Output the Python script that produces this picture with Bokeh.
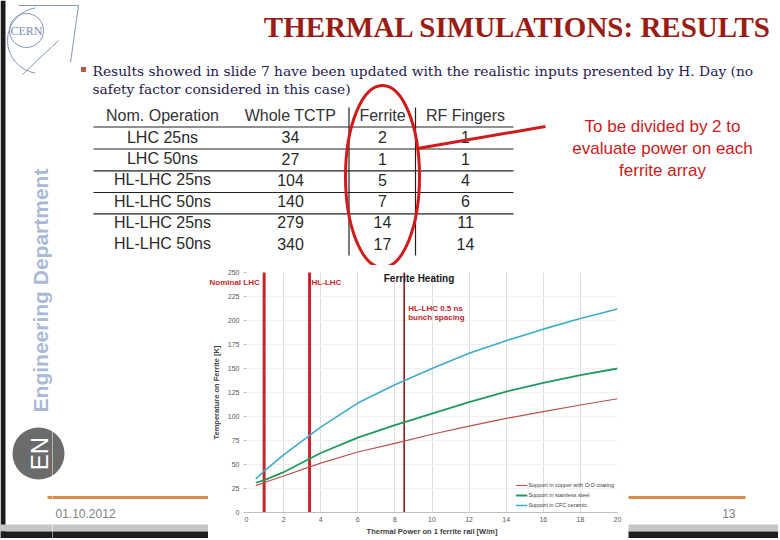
import numpy as np
from bokeh.plotting import figure
from bokeh.models import Range1d, Label, Legend, LegendItem, SingleIntervalTicker, GridBox, Title
from bokeh.embed import file_html
from bokeh.resources import INLINE
from bokeh.core.properties import value

# ---------------- chart data ----------------
power = [0.5, 1, 2, 4, 6, 8, 10, 12, 14, 16, 18, 20]
temp_copper_cro = [28, 31.5, 38, 51.5, 63, 72, 81.5, 90, 98, 105, 112, 118.5]
temp_stainless = [31, 34, 42, 62, 78, 91, 103, 115, 126, 135, 143, 150]
temp_ceramic = [35, 44, 60, 89, 114, 133, 150, 166, 179, 191, 202, 212]
series_names = ["Support in copper with CrO coating",
                "Support in stainless steel",
                "Support in CFC ceramic"]
scenario_power = [0.95, 3.4, 8.5]
scenario_names = ["Nominal LHC", "HL-LHC", "HL-LHC 0.5 ns", "bunch spacing"]

# ---------------- table data ----------------
table_header = ["Nom. Operation", "Whole TCTP", "Ferrite", "RF Fingers"]
operations = ["LHC 25ns", "LHC 50ns", "HL-LHC 25ns", "HL-LHC 50ns", "HL-LHC 25ns", "HL-LHC 50ns"]
whole_tctp = [34, 27, 104, 140, 279, 340]
ferrite = [2, 1, 5, 7, 14, 17]
rf_fingers = [1, 1, 4, 6, 11, 14]

title_text = "THERMAL SIMULATIONS: RESULTS"
bullet_lines = ["Results showed in slide 7 have been updated with the realistic inputs presented by H. Day (no",
                "safety factor considered in this case)"]
note_lines = ["To be divided by 2 to", "evaluate power on each", "ferrite array"]

SANS = value("Liberation Sans")
SERIF = value("Liberation Serif")

W, H = 778, 538          # whole slide, page pixels
SPLIT_X, SPLIT_Y = 52, 265
CHART_X0, CHART_X1 = 208, 628

FIXED = dict(sizing_mode="fixed", width_policy="fixed", height_policy="fixed",
             align="start", frame_align=False)


def panel(x0, x1, y0, y1):
    w, h = int(x1 - x0), int(y1 - y0)
    p = figure(width=w, height=h,
               x_range=Range1d(x0, x1), y_range=Range1d(y1, y0),
               output_backend="svg", toolbar_location=None, tools="",
               x_axis_location=None, y_axis_location=None,
               min_border=0, min_border_left=0, min_border_right=0,
               min_border_top=0, min_border_bottom=0,
               outline_line_color=None, background_fill_color="white",
               border_fill_color="white", **FIXED)
    p.grid.visible = False
    return p


def decor(p):
    # slide frame (left edge) and bottom bevel
    p.quad(left=[0], right=[5], top=[0], bottom=[H], fill_color="#1c1c1c", line_color=None)
    p.quad(left=[0], right=[W], top=[524], bottom=[531], fill_color="#c6c6c6", line_color=None)
    p.quad(left=[0], right=[W], top=[531], bottom=[H], fill_color="#1e1e1e", line_color=None)
    # CERN logo line work
    p.circle(x=[26], y=[30], radius=17, fill_color=None, line_color="#8394bb", line_width=1)
    p.arc(x=[40], y=[40], radius=33, start_angle=np.pi * 0.55, end_angle=np.pi * 1.45,
          line_color="#8394bb", line_width=1)
    p.segment(x0=[18, 78, 22], y0=[5, 5, 74], x1=[78, 70, 58], y1=[5, 62, 40],
              line_color="#8394bb", line_width=1)
    # EN badge
    p.circle(x=[38], y=[453], radius=26, fill_color="#6b6b6b", line_color=None)
    # footer rule
    p.segment(x0=[47], y0=[497], x1=[745], y1=[497], line_color="#d98b4c", line_width=3)


# ---------------- slide panels ----------------
left = panel(0, SPLIT_X, 0, H)
top = panel(SPLIT_X, W, 0, SPLIT_Y)
bm = panel(SPLIT_X, CHART_X0, SPLIT_Y, H)
br = panel(CHART_X1, W, SPLIT_Y, H)
for p in (left, top, bm, br):
    decor(p)

left.text(x=[26], y=[30], text=["CERN"], text_font=SERIF, text_font_size="12px",
          text_color="#7b8cb4", text_align="center", text_baseline="middle")
left.text(x=[40], y=[290], text=["Engineering Department"], angle=np.pi / 2,
          text_font=SANS, text_font_style="bold", text_font_size="21px",
          text_color="#a9b9d8", text_align="center", text_baseline="middle")
left.text(x=[39], y=[453], text=["EN"], angle=np.pi / 2, text_font=SANS,
          text_font_size="24px", text_color="white", text_align="center", text_baseline="middle")

bm.text(x=[55], y=[513], text=["01.10.2012"], text_font=SANS, text_font_size="12px",
        text_color="#7f7f7f", text_align="left", text_baseline="middle")
br.text(x=[735], y=[513], text=["13"], text_font=SANS, text_font_size="12px",
        text_color="#7f7f7f", text_align="right", text_baseline="middle")

# title
top.text(x=[771], y=[26], text=[title_text], text_font=SERIF, text_font_style="bold",
         text_font_size="29px", text_color="#9b1c14", text_align="right", text_baseline="middle")
# bullet
top.rect(x=[83], y=[69], width=5, height=5, fill_color="#b9544a", line_color=None)
top.text(x=[92, 92], y=[70, 88], text=bullet_lines, text_font=value("DejaVu Serif"),
         text_font_size="13.8px", text_color="#1f2050", text_align="left", text_baseline="middle")

# table
col_x = [162, 290, 382, 465]
header_y = 115
row_y0, row_dy = 136.7, 21.3
top.text(x=col_x, y=[header_y] * 4, text=table_header, text_font=SANS, text_font_size="16px",
         text_color="#333333", text_align="center", text_baseline="middle")
row_ys = [row_y0 + i * row_dy for i in range(len(operations))]
for cx, vals in zip(col_x, [operations, whole_tctp, ferrite, rf_fingers]):
    top.text(x=[cx] * len(vals), y=row_ys, text=[str(v) for v in vals], text_font=SANS,
             text_font_size="16px", text_color="#2a2a2a", text_align="center", text_baseline="middle")
rule_ys = [126.5, 148.5, 170.3, 192, 213.3]
top.segment(x0=[93] * 5, y0=rule_ys, x1=[513] * 5, y1=rule_ys, line_color="#222222", line_width=1.2)
top.segment(x0=[348.5, 415], y0=[107, 107], x1=[348.5, 415], y1=[255, 255],
            line_color="#222222", line_width=1.2)

# red highlight
top.ellipse(x=[382], y=[176], width=74, height=182, fill_color=None,
            line_color="#d11a1a", line_width=3)
top.segment(x0=[417], y0=[148], x1=[545], y1=[126], line_color="#d11a1a", line_width=3)
top.text(x=[662] * 3, y=[126, 148, 170], text=note_lines, text_font=SANS, text_font_size="17px",
         text_color="#cc1a1a", text_align="center", text_baseline="middle")

# ---------------- embedded chart ----------------
cw, ch = CHART_X1 - CHART_X0, H - SPLIT_Y
C = figure(width=cw, height=ch,
           x_range=Range1d(0, 20), y_range=Range1d(0, 250),
           output_backend="svg", toolbar_location=None, tools="",
           min_border_left=38, min_border_right=11, min_border_top=7, min_border_bottom=23,
           background_fill_color="white", border_fill_color="white", outline_line_color=None,
           **FIXED)
C.xaxis.ticker = SingleIntervalTicker(interval=2, num_minor_ticks=0)
C.yaxis.ticker = SingleIntervalTicker(interval=25, num_minor_ticks=0)
C.xgrid.grid_line_color = "#dedede"
C.ygrid.grid_line_color = "#f0f0f0"
for ax in (C.xaxis[0], C.yaxis[0]):
    ax.major_label_text_font = "Liberation Sans"
    ax.major_label_text_font_size = "7px"
    ax.major_label_text_color = "#595959"
    ax.axis_label_text_font = "Liberation Sans"
    ax.axis_label_text_font_size = "7.5px"
    ax.axis_label_text_font_style = "bold"
    ax.axis_label_text_color = "#404040"
    ax.minor_tick_line_color = None
    ax.major_tick_in = 0
C.xaxis.axis_label = "Thermal Power on 1 ferrite rail [W/m]"
C.yaxis.axis_label = "Temperature on Ferrite [K]"
C.xaxis.axis_line_color = "#bfbfbf"
C.xaxis.major_tick_out = 0
C.xaxis.major_label_standoff = 4
C.xaxis.axis_label_standoff = 2
C.yaxis.axis_line_color = None
C.yaxis.major_tick_out = 3
C.yaxis.major_tick_line_color = "#bfbfbf"
C.yaxis.major_label_standoff = 4
C.yaxis.axis_label_standoff = 4

C.segment(x0=scenario_power, y0=[0, 0, 0], x1=scenario_power, y1=[260, 260, 260],
          line_color=["#c3262c", "#c3262c", "#8e1b1b"], line_width=[3, 3, 1.6])

r1 = C.line(power, temp_copper_cro, line_color="#b9504a", line_width=1.2)
r2 = C.line(power, temp_stainless, line_color="#1f9a5c", line_width=1.8)
r3 = C.line(power, temp_ceramic, line_color="#3fabc9", line_width=1.6)

legend = Legend(items=[LegendItem(label=series_names[0], renderers=[r1]),
                       LegendItem(label=series_names[1], renderers=[r2]),
                       LegendItem(label=series_names[2], renderers=[r3])],
                location="bottom_right", label_text_font_size="5.5px",
                label_text_font="Liberation Sans", label_text_color="#404040",
                glyph_width=12, glyph_height=8, label_height=8, label_standoff=1,
                spacing=2, padding=1, margin=3, border_line_color=None,
                background_fill_alpha=0)
C.add_layout(legend)

lab_style = dict(text_font="Liberation Sans", text_font_size="8px", text_font_style="bold",
                 text_color="#c3262c")
# the first label hangs over the axis area, so it is carried by the plot title
C.title = Title(text=scenario_names[0], align="left", offset=-37, standoff=-28,
                vertical_align="bottom", **lab_style)
C.add_layout(Label(x=scenario_power[1], y=239.7, x_offset=2, text=scenario_names[1],
                   text_align="left", text_baseline="middle", **lab_style))
C.add_layout(Label(x=scenario_power[2], y=212.9, x_offset=4, text=scenario_names[2],
                   text_align="left", text_baseline="middle", **lab_style))
C.add_layout(Label(x=scenario_power[2], y=203.6, x_offset=4, text=scenario_names[3],
                   text_align="left", text_baseline="middle", **lab_style))
C.add_layout(Label(x=9.3, y=243.8, text="Ferrite Heating", text_align="center",
                   text_baseline="middle", text_font="Liberation Sans", text_font_size="10px",
                   text_font_style="bold", text_color="#1a1a1a"))

grid = GridBox(children=[(left, 0, 0, 2, 1), (top, 0, 1, 1, 3),
                         (bm, 1, 1), (C, 1, 2), (br, 1, 3)], spacing=0)
open("out.html", "w").write(file_html(grid, INLINE, "Thermal simulations: results"))
